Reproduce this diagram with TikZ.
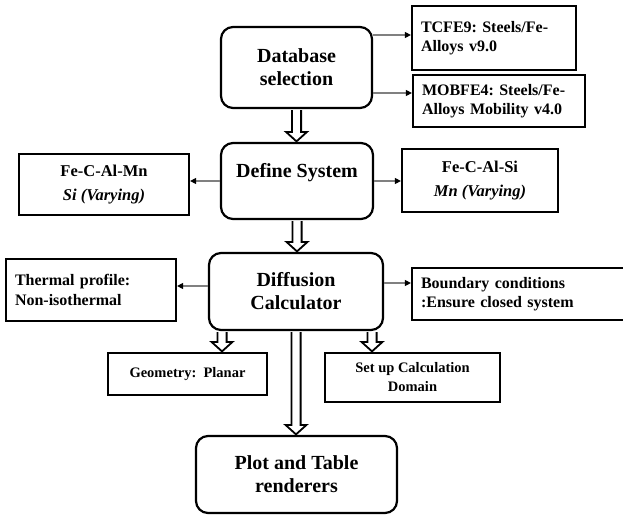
\documentclass[tikz,border=0pt]{standalone}
\usepackage{fontspec}
\setmainfont{Liberation Serif}
\frenchspacing
\usetikzlibrary{arrows.meta,calc}
\tikzset{
  stage/.style={draw,line width=2.2pt,rounded corners=12pt,align=center,inner sep=0pt,font=\fontsize{20}{23}\selectfont\bfseries},
  sidebox/.style={draw,line width=2.2pt,align=left,inner xsep=9pt,inner ysep=0pt,font=\fontsize{16}{19.5}\selectfont\bfseries},
  varbox/.style={sidebox,align=center,font=\fontsize{16.5}{24}\selectfont\bfseries},
  setbox/.style={sidebox,align=center,font=\fontsize{14.5}{19}\selectfont\bfseries},
  feed/.style={draw=black!50,line width=1.1pt,-{Triangle[length=6pt,width=6pt,color=black]}},
  hollow/.style={draw,line width=1.8pt,fill=white,to path={let \p1=(\tikztostart),\p2=(\tikztotarget) in
    (\x1-4.6pt,\y1-1pt) -- (\x1-4.6pt,\y2+10pt) -- (\x1-10.5pt,\y2+10pt) -- (\x1,\y2+0.5pt)
    -- (\x1+10.5pt,\y2+10pt) -- (\x1+4.6pt,\y2+10pt) -- (\x1+4.6pt,\y1-1pt)}}
}
\begin{document}
\begin{tikzpicture}[x=1pt,y=-1pt]
  \clip (0,0) rectangle (623,516);

  % main chain
  \node[stage,minimum width=151,minimum height=81] (db) at (296.5,67.5) {Database\\selection};
  \node[stage,minimum width=152,minimum height=76,text depth=22pt] (def) at (297,181) {Define System};
  \node[stage,minimum width=174,minimum height=77] (diff) at (296,291.5) {Diffusion\\Calculator};
  \node[stage,minimum width=201,minimum height=77] (plot) at (296.5,474.5) {Plot and Table\\renderers};

  % databases
  \node[sidebox,text width=146,minimum height=64] (tcfe) at (494,38) {TCFE9: Steels/Fe-\\Alloys v9.0};
  \node[sidebox,text width=154,minimum height=52] (mob) at (499,101) {MOBFE4: Steels/Fe-\\Alloys Mobility v4.0};

  % systems
  \node[varbox,minimum width=170,minimum height=61] (mn) at (104,184.5) {Fe-C-Al-Mn\\{\itshape Si (Varying)}};
  \node[varbox,minimum width=156,minimum height=63] (si) at (480,180.5) {Fe-C-Al-Si\\{\itshape Mn (Varying)}};

  % calculator settings
  \node[sidebox,text width=152,minimum height=62] (therm) at (91,290) {Thermal profile:\\Non-isothermal};
  \node[sidebox,text width=210,minimum height=52] (bnd) at (526,294) {Boundary conditions\\:Ensure closed system};
  \node[setbox,minimum width=159,minimum height=42] (geo) at (187.5,374) {Geometry:~ Planar};
  \node[setbox,minimum width=175,minimum height=49] (dom) at (412.5,377.5) {Set up Calculation\\Domain};

  % thin arrows
  \path (tcfe.west) ++(0,-3) coordinate (tcfeIn);
  \path (mob.west) ++(0,-8) coordinate (mobIn);
  \path (diff.west) ++(0,-5.5) coordinate (thermOut);
  \path (diff.east) ++(0,-8.5) coordinate (bndOut);
  \draw[feed] (db.east |- tcfeIn) -- (tcfeIn);
  \draw[feed] (db.east |- mobIn) -- (mobIn);
  \draw[feed] (def.west) -- (def.west -| mn.east);
  \draw[feed] (def.east) -- (def.east -| si.west);
  \draw[feed] (thermOut) -- (thermOut -| therm.east);
  \draw[feed] (bndOut) -- (bndOut -| bnd.west);

  % hollow arrows
  \path (diff.south) ++(-74,0) coordinate (geoOut);
  \path (diff.south) ++(76,0) coordinate (domOut);
  \draw[hollow] (db.south) to (def.north);
  \draw[hollow] (def.south) to (diff.north);
  \draw[hollow] (geoOut) to (geoOut |- geo.north);
  \draw[hollow] (domOut) to (domOut |- dom.north);
  \draw[hollow] (diff.south) to (plot.north);
\end{tikzpicture}
\end{document}
